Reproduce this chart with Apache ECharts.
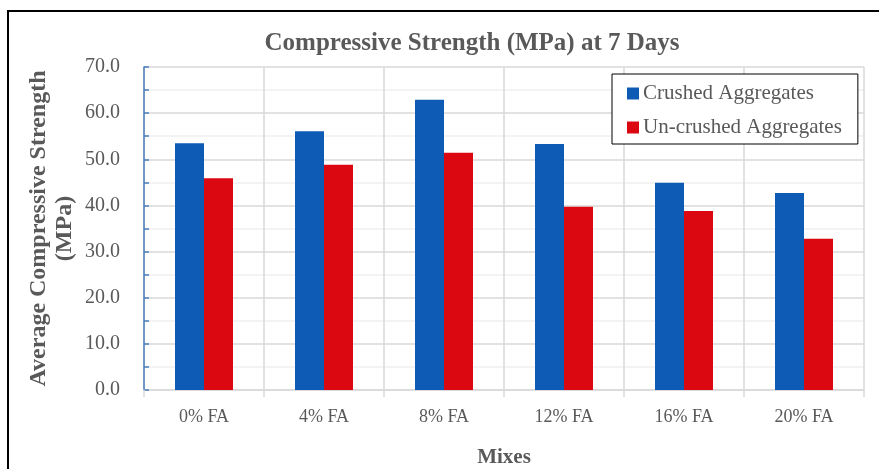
<!DOCTYPE html>
<html><head><meta charset="utf-8">
<script src="https://cdn.jsdelivr.net/npm/echarts@6/dist/echarts.min.js"></script>
<style>html,body{margin:0;padding:0;background:#fff}#c{width:879px;height:469px}</style>
</head><body><div id="c"></div>
<script>
const categories = ['0% FA','4% FA','8% FA','12% FA','16% FA','20% FA'];
const crushed = [53.5, 56.1, 62.9, 53.3, 44.9, 42.7];
const uncrushed = [45.9, 48.8, 51.4, 39.7, 38.8, 32.8];
const seriesNames = ['Crushed Aggregates','Un-crushed Aggregates'];
const font = '"Liberation Serif","Times New Roman",serif';
const chart = echarts.init(document.getElementById('c'));
chart.setOption({
  animation:false,
  backgroundColor:'#fff',
  graphic:[{type:'rect',shape:{x:8,y:11,width:900,height:500},style:{fill:'none',stroke:'#000',lineWidth:2},z:-1}],
  title:{text:'Compressive Strength (MPa) at 7 Days',left:467,textAlign:'center',top:26,
    textStyle:{fontFamily:font,fontWeight:'bold',fontSize:25,color:'#595959'}},
  legend:{orient:'vertical',left:612,top:74,itemWidth:12,itemHeight:12,itemGap:13,
    padding:[9,16,6,15],borderColor:'#000',borderWidth:1,backgroundColor:'#fff',
    textStyle:{fontFamily:font,fontSize:21,color:'#595959',padding:[0,0,0,-1]},icon:'rect',data:seriesNames},
  grid:{left:144,right:15,top:67,bottom:79,containLabel:false,outerBoundsMode:'none'},
  xAxis:{type:'category',data:categories,name:'Mixes',nameLocation:'middle',nameGap:57,nameMoveOverlap:false,
    nameTextStyle:{fontFamily:font,fontWeight:'bold',fontSize:21,color:'#595959'},
    axisLine:{lineStyle:{color:'#d9d9d9',width:1.5}},
    axisTick:{show:true,length:7,lineStyle:{color:'#d9d9d9',width:1.5}},
    axisLabel:{fontFamily:font,fontSize:18,color:'#595959',margin:18},
    splitLine:{show:true,lineStyle:{color:'#d9d9d9',width:1.5}}},
  yAxis:{type:'value',min:0,max:70,interval:10,name:'Average Compressive Strength\n(MPa)',
    nameLocation:'middle',nameGap:66,nameRotate:90,nameMoveOverlap:false,
    nameTextStyle:{fontFamily:font,fontWeight:'bold',fontSize:24,color:'#595959',lineHeight:26},
    axisLine:{show:true,lineStyle:{color:'#4a7ebb',width:1.5}},
    axisTick:{show:true,inside:true,length:5,lineStyle:{color:'#4a7ebb',width:1.5}},
    minorTick:{show:true,splitNumber:2,length:5,lineStyle:{color:'#4a7ebb',width:1.5}},
    minorSplitLine:{show:true,lineStyle:{color:'#efefef',width:1.5}},
    splitLine:{show:true,lineStyle:{color:'#d9d9d9',width:1.5}},
    axisLabel:{fontFamily:font,fontSize:20,color:'#595959',margin:24,formatter:v=>v.toFixed(1)}},
  series:[
    {name:seriesNames[0],type:'bar',data:crushed,barWidth:29,barGap:'0%',itemStyle:{color:'#0E5BB6'}},
    {name:seriesNames[1],type:'bar',data:uncrushed,barWidth:29,itemStyle:{color:'#DB0812'}}
  ]
});
</script></body></html>
